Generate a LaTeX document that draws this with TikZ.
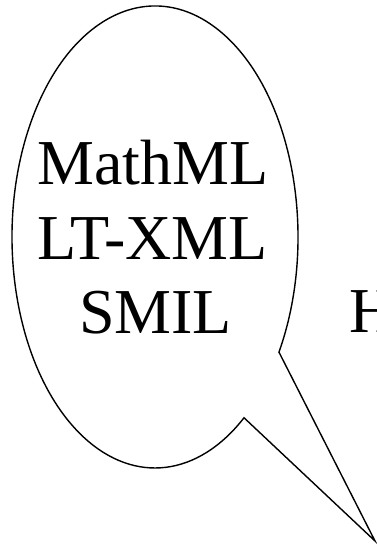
\documentclass[tikz,border=0pt]{standalone}
\usepackage{fontspec}
\setmainfont{Liberation Serif}
\begin{document}
\begin{tikzpicture}[
  bubble/.style={draw=black, line width=1.4pt, line join=miter},
  word/.style={inner sep=0pt, anchor=base, font=\fontsize{64pt}{74pt}\selectfont}
]
\useasboundingbox (0pt,0pt) rectangle (376pt,545pt);
\coordinate (c) at (155pt,308pt);
\coordinate (tip) at (375pt,4pt);
\draw[bubble] ([shift={(-29.9:143pt and 231pt)}]c)
  arc[start angle=-29.9, end angle=308.5, x radius=143pt, y radius=231pt]
  -- (tip) -- cycle;
\node[word] (m) at (153pt,360pt) {MathML};
\node[word] (l) at (152.5pt,285pt) {LT-XML};
\node[word] (s) at (155.5pt,211pt) {SMIL};
\node[word, anchor=base west] (h) at (349pt,212pt) {H};
\end{tikzpicture}
\end{document}
